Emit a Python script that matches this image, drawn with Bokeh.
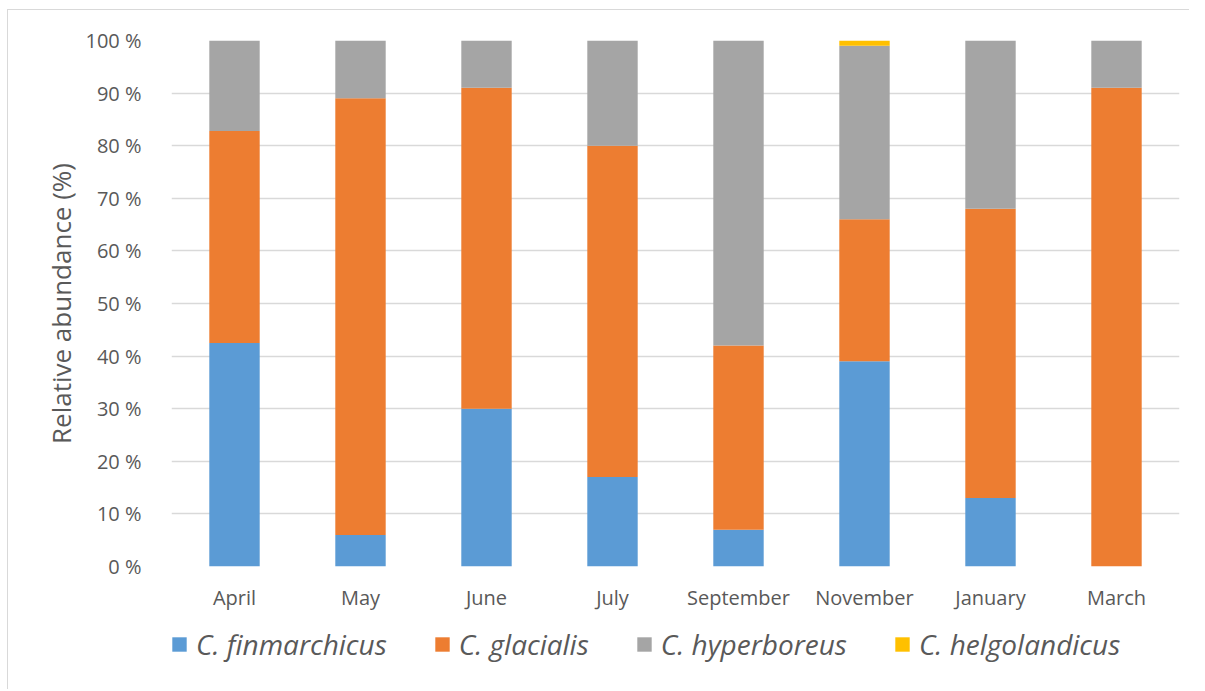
from bokeh.plotting import figure
from bokeh.layouts import column
from bokeh.models import Range1d, FactorRange, FixedTicker, Legend, LegendItem
from bokeh.embed import file_html
from bokeh.resources import INLINE

months = ["April", "May", "June", "July", "September", "November", "January", "March"]
finmarchicus = [42.5, 6, 30, 17, 7, 39, 13, 0]
glacialis = [40.3, 83, 61, 63, 35, 27, 55, 91]
hyperboreus = [17.2, 11, 9, 20, 58, 33, 32, 9]
helgolandicus = [0, 0, 0, 0, 0, 1, 0, 0]
species = ["C. finmarchicus", "C. glacialis", "C. hyperboreus", "C. helgolandicus"]
colors = ["#5B9BD5", "#ED7D31", "#A5A5A5", "#FFC000"]
tick_values = [0, 10, 20, 30, 40, 50, 60, 70, 80, 90, 100]
tick_labels = ["0 %", "10 %", "20 %", "30 %", "40 %", "50 %", "60 %", "70 %", "80 %", "90 %", "100 %"]

keys = ["fin", "gla", "hyp", "hel"]
data = dict(month=months, fin=finmarchicus, gla=glacialis, hyp=hyperboreus, hel=helgolandicus)

FONT = "Open Sans"
TXT = "#595959"

p = figure(x_range=FactorRange(*months, range_padding=0), y_range=Range1d(0, 100),
           frame_width=1008, frame_height=526, output_backend="svg", toolbar_location=None,
           min_border_left=163, min_border_right=10, min_border_top=30, min_border_bottom=48)
p.outline_line_color = None

p.vbar_stack(keys, x="month", width=0.4, source=data, color=colors, line_color=None)

p.yaxis.ticker = FixedTicker(ticks=tick_values)
p.yaxis.major_label_overrides = {v: l for v, l in zip(tick_values, tick_labels)}
for ax in (p.xaxis[0], p.yaxis[0]):
    ax.axis_line_color = None
    ax.major_tick_line_color = None
    ax.minor_tick_line_color = None
    ax.major_label_text_font = FONT
    ax.major_label_text_font_size = "20px"
    ax.major_label_text_color = TXT
p.yaxis.major_label_standoff = 24
p.xaxis.major_label_standoff = 11
p.yaxis.axis_label = "Relative abundance (%)"
p.yaxis.axis_label_text_font = FONT
p.yaxis.axis_label_text_font_size = "26px"
p.yaxis.axis_label_text_font_style = "normal"
p.yaxis.axis_label_text_color = TXT
p.yaxis.axis_label_standoff = 3

p.xgrid.grid_line_color = None
p.ygrid.grid_line_color = "#D9D9D9"
p.ygrid.grid_line_width = 1.5

# legend strip below the chart (swatch renderers sit outside the visible range)
lg = figure(width=1181, height=75, output_backend="svg", toolbar_location=None,
            x_range=Range1d(0, 1), y_range=Range1d(0, 1),
            min_border_left=0, min_border_right=0, min_border_top=0, min_border_bottom=0,
            x_axis_location=None, y_axis_location=None)
lg.outline_line_color = None
lg.grid.visible = False
swatches = [lg.rect(x=[-5], y=[-5], width=1, height=1, fill_color=c, line_color=None) for c in colors]

legend = Legend(items=[LegendItem(label=s, renderers=[r]) for s, r in zip(species, swatches)],
                orientation="horizontal", location=(-1, 26))
legend.label_text_font = FONT
legend.label_text_font_style = "italic"
legend.label_text_font_size = "28px"
legend.label_text_color = TXT
legend.glyph_width = 18
legend.glyph_height = 18
legend.label_standoff = 8
legend.spacing = 46
legend.border_line_color = None
legend.background_fill_alpha = 0
legend.margin = 0
legend.padding = 0
legend.label_height = 30
lg.add_layout(legend, "center")

layout = column(p, lg, spacing=0)
layout.styles = {"border-top": "1px solid #D9D9D9", "border-left": "1px solid #D9D9D9"}
layout.margin = (9, 0, 0, 7)

open("out.html", "w").write(file_html(layout, INLINE))
